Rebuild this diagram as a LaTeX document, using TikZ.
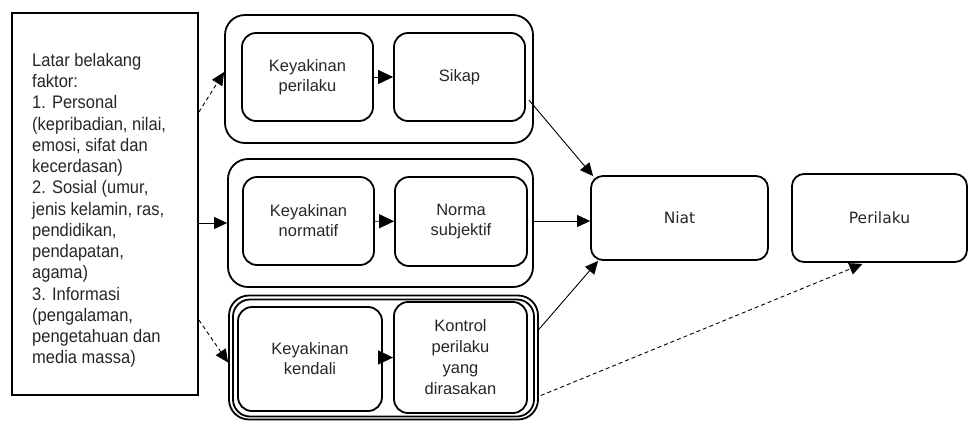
\documentclass[tikz,border=0pt]{standalone}
\usepackage{fontspec}
\usepackage{graphicx}
\setmainfont{Liberation Sans}
\newfontfamily\dejavu{DejaVu Sans}
\usetikzlibrary{arrows.meta,calc}
\begin{document}
\begin{tikzpicture}[x=1pt,y=-1pt,
  txt/.style={font=\fontsize{16.5}{20}\selectfont, text=black!85},
  box/.style={draw, line width=1.8pt, rounded corners=14pt, inner sep=0pt, align=center, txt},
  grp/.style={draw, line width=1.8pt, rounded corners=20pt, inner sep=0pt},
  conn/.style={line width=0.9pt, -{Triangle[length=13pt,width=12pt]}},
  bigconn/.style={line width=0.9pt, -{Triangle[length=15pt,width=14pt]}},
  dsh/.style={conn, dash pattern=on 4pt off 3pt}
]
\useasboundingbox (0,0) rectangle (968,421);

% left box
\node[draw, line width=1.8pt, minimum width=186pt, minimum height=382pt, inner sep=0pt] (left) at (105,204) {};
\node[anchor=base west, inner sep=0pt, text=black!85] (lefttext) at (32,66.5)
 {\scalebox{1}[1.1]{\parbox[t]{165pt}{\raggedright\fontsize{16.5}{19.3}\selectfont
 Latar belakang\\faktor:\\1. Personal\\(kepribadian, nilai,\\emosi, sifat dan\\kecerdasan)\\2. Sosial (umur,\\jenis kelamin, ras,\\pendidikan,\\pendapatan,\\agama)\\3. Informasi\\(pengalaman,\\pengetahuan dan\\media massa)}}};

% group 1
\node[grp, minimum width=308pt, minimum height=128pt] (g1) at (379,79) {};
\node[box, minimum width=131pt, minimum height=88pt] (kp) at (307.5,77) {Keyakinan\\perilaku};
\node[box, minimum width=131pt, minimum height=88pt] (sikap) at (459.5,77) {Sikap};

% group 2
\node[grp, minimum width=305pt, minimum height=128pt] (g2) at (380.5,223) {};
\node[box, minimum width=131pt, minimum height=88pt] (kn) at (308.5,221) {Keyakinan\\normatif};
\node[box, minimum width=132pt, minimum height=89pt] (ns) at (461,221.5) {Norma\\subjektif};

% group 3
\node[grp, minimum width=309pt, minimum height=124pt] (g3) at (383.5,357.5) {};
\node[grp, minimum width=301pt, minimum height=117pt, rounded corners=17pt] (g3in) at (383.5,358) {};
\node[box, minimum width=144pt, minimum height=104pt] (kk) at (310,359) {Keyakinan\\kendali};
\node[box, minimum width=133pt, minimum height=111pt, font=\fontsize{16.5}{21}\selectfont] (kpr) at (460.5,357.5) {Kontrol\\perilaku\\yang\\dirasakan};

% Niat, Perilaku
\node[box, rounded corners=12pt, minimum width=177pt, minimum height=84pt, font=\dejavu\fontsize{15.5}{19}\selectfont] (niat) at (679.5,218) {Niat};
\node[box, rounded corners=12pt, minimum width=175pt, minimum height=88pt, font=\dejavu\fontsize{15.5}{19}\selectfont] (perilaku) at (879.5,218) {Perilaku};

% connectors
\draw[dsh] ($(left.east)+(0,-92)$) -- ($(g1.west)+(0,-7)$);
\draw[conn] (left.east |- g2.west) -- (g2.west);
\draw[dsh] ($(left.east)+(0,116)$) -- ($(g3.west)+(0,5)$);

\draw[bigconn] (kp) -- (sikap);
\draw[bigconn] (kn) -- (ns);
\draw[bigconn] (kk.east |- kpr) -- (kpr.west);

\draw[conn] ($(sikap.east)+(3,23)$) -- ($(niat.north west)+(3,1)$);
\coordinate (niatin) at ($(niat.west)+(0,3)$);
\draw[conn] (g2.east |- niatin) -- (niatin);
\draw[conn] ($(g3.east)+(-1,-27)$) -- ($(niat.south west)+(8,0)$);
\draw[dsh] ($(g3.east)+(2,38)$) -- ($(perilaku.south)+(-17,1)$);
\end{tikzpicture}
\end{document}
